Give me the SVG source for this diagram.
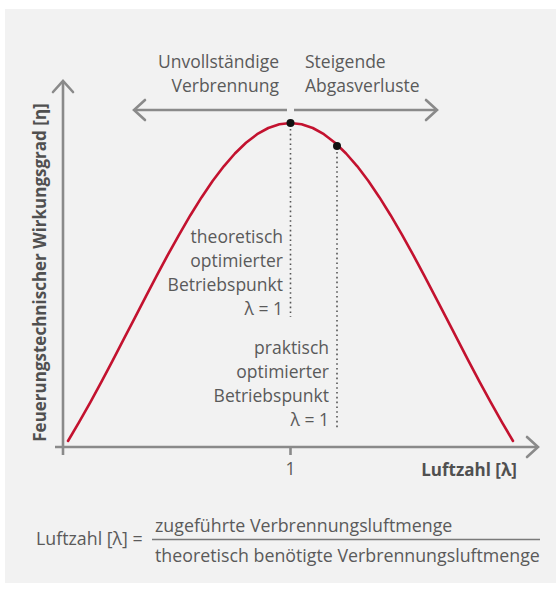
<svg xmlns="http://www.w3.org/2000/svg" width="556" height="592" viewBox="0 0 556 592">
  <defs>
    <marker id="chev" markerUnits="userSpaceOnUse" markerWidth="30" markerHeight="30" viewBox="-15 -15 30 30" refX="0" refY="0" orient="auto">
      <path d="M-11,-10 L0,0 L-11,10" fill="none" stroke="#8a8a8a" stroke-width="2.6" stroke-linecap="round" stroke-linejoin="miter"/>
    </marker>
  </defs>
  <style>
    .lbl { font-family: "Open Sans", "Liberation Sans", sans-serif; font-size: 17.5px; fill: #5a5a5a; }
    .frm { font-family: "Open Sans", "Liberation Sans", sans-serif; font-size: 17.8px; fill: #5a5a5a; }
    .bold { font-family: "Open Sans", "Liberation Sans", sans-serif; font-size: 17px; font-weight: 700; fill: #505050; }
    .axis { fill: none; stroke: #8a8a8a; stroke-width: 2.6; }
    .dots { fill: none; stroke: #555555; stroke-width: 1.6; stroke-dasharray: 1.6 3.2; }
    .pt { fill: #111111; }
  </style>
  <rect x="0" y="0" width="556" height="592" fill="#ffffff"/>
  <rect id="panel" x="5" y="9" width="551" height="574" fill="#f2f2f2"/>

  <g id="connectors">
    <line class="axis" x1="63" y1="455" x2="63" y2="81" marker-end="url(#chev)"/>
    <line class="axis" x1="55" y1="447" x2="538" y2="447" marker-end="url(#chev)"/>
    <line class="axis" x1="290.5" y1="447" x2="290.5" y2="455"/>
    <line class="axis" x1="287" y1="110" x2="134" y2="110" marker-end="url(#chev)"/>
    <line class="axis" x1="294" y1="110" x2="437" y2="110" marker-end="url(#chev)"/>
    <line class="dots" x1="290.5" y1="129" x2="290.5" y2="317"/>
    <line class="dots" x1="337" y1="152" x2="337" y2="428"/>
  </g>

  <g id="curve">
    <path d="M68,441 L79.1,422.1 L90.3,402.3 L101.4,381.8 L112.5,360.8 L123.6,339.4 L134.8,317.9 L145.9,296.4 L157,275.1 L168.1,254.3 L179.3,234.3 L190.4,215.2 L201.5,197.4 L212.6,181 L223.8,166.3 L234.9,153.5 L246,142.7 L257.1,134.2 L268.3,128 L279.4,124.3 L290.5,123 L301.6,124.3 L312.8,128 L323.9,134.2 L335,142.7 L346.1,153.5 L357.3,166.3 L368.4,181 L379.5,197.4 L390.6,215.2 L401.8,234.3 L412.9,254.3 L424,275.1 L435.1,296.4 L446.3,317.9 L457.4,339.4 L468.5,360.8 L479.6,381.8 L490.8,402.3 L501.9,422.1 L513,441" fill="none" stroke="#c3122f" stroke-width="2.6" stroke-linejoin="round" stroke-linecap="round"/>
  </g>

  <g id="point-theoretical">
    <circle class="pt" cx="290.5" cy="123" r="4"/>
  </g>
  <g id="point-practical">
    <circle class="pt" cx="337" cy="146" r="4"/>
  </g>

  <g id="label-left">
    <text class="lbl" x="279" y="68" text-anchor="end">Unvollständige</text>
    <text class="lbl" x="279" y="92" text-anchor="end">Verbrennung</text>
  </g>
  <g id="label-right">
    <text class="lbl" x="305" y="68">Steigende</text>
    <text class="lbl" x="305" y="92">Abgasverluste</text>
  </g>

  <g id="label-theoretical">
    <text class="lbl" x="283" y="243" text-anchor="end">theoretisch</text>
    <text class="lbl" x="283" y="267" text-anchor="end">optimierter</text>
    <text class="lbl" x="283" y="291" text-anchor="end">Betriebspunkt</text>
    <text class="lbl" x="283" y="315" text-anchor="end">λ = 1</text>
  </g>
  <g id="label-practical">
    <text class="lbl" x="329" y="354" text-anchor="end">praktisch</text>
    <text class="lbl" x="329" y="378" text-anchor="end">optimierter</text>
    <text class="lbl" x="329" y="402" text-anchor="end">Betriebspunkt</text>
    <text class="lbl" x="329" y="426" text-anchor="end">λ = 1</text>
  </g>

  <g id="y-axis-title">
    <text class="bold" transform="translate(46,272.5) rotate(-90)" text-anchor="middle">Feuerungstechnischer Wirkungsgrad [η]</text>
  </g>
  <g id="x-axis-title">
    <text class="bold" x="517" y="476" text-anchor="end">Luftzahl [λ]</text>
    <text class="lbl" x="290.5" y="475" text-anchor="middle">1</text>
  </g>

  <g id="formula">
    <text class="frm" x="36" y="545">Luftzahl [λ] =</text>
    <text class="frm" x="155" y="532">zugeführte Verbrennungsluftmenge</text>
    <line x1="152" y1="539.5" x2="540" y2="539.5" stroke="#7a7a7a" stroke-width="1.6"/>
    <text class="frm" x="155" y="562">theoretisch benötigte Verbrennungsluftmenge</text>
  </g>
</svg>
